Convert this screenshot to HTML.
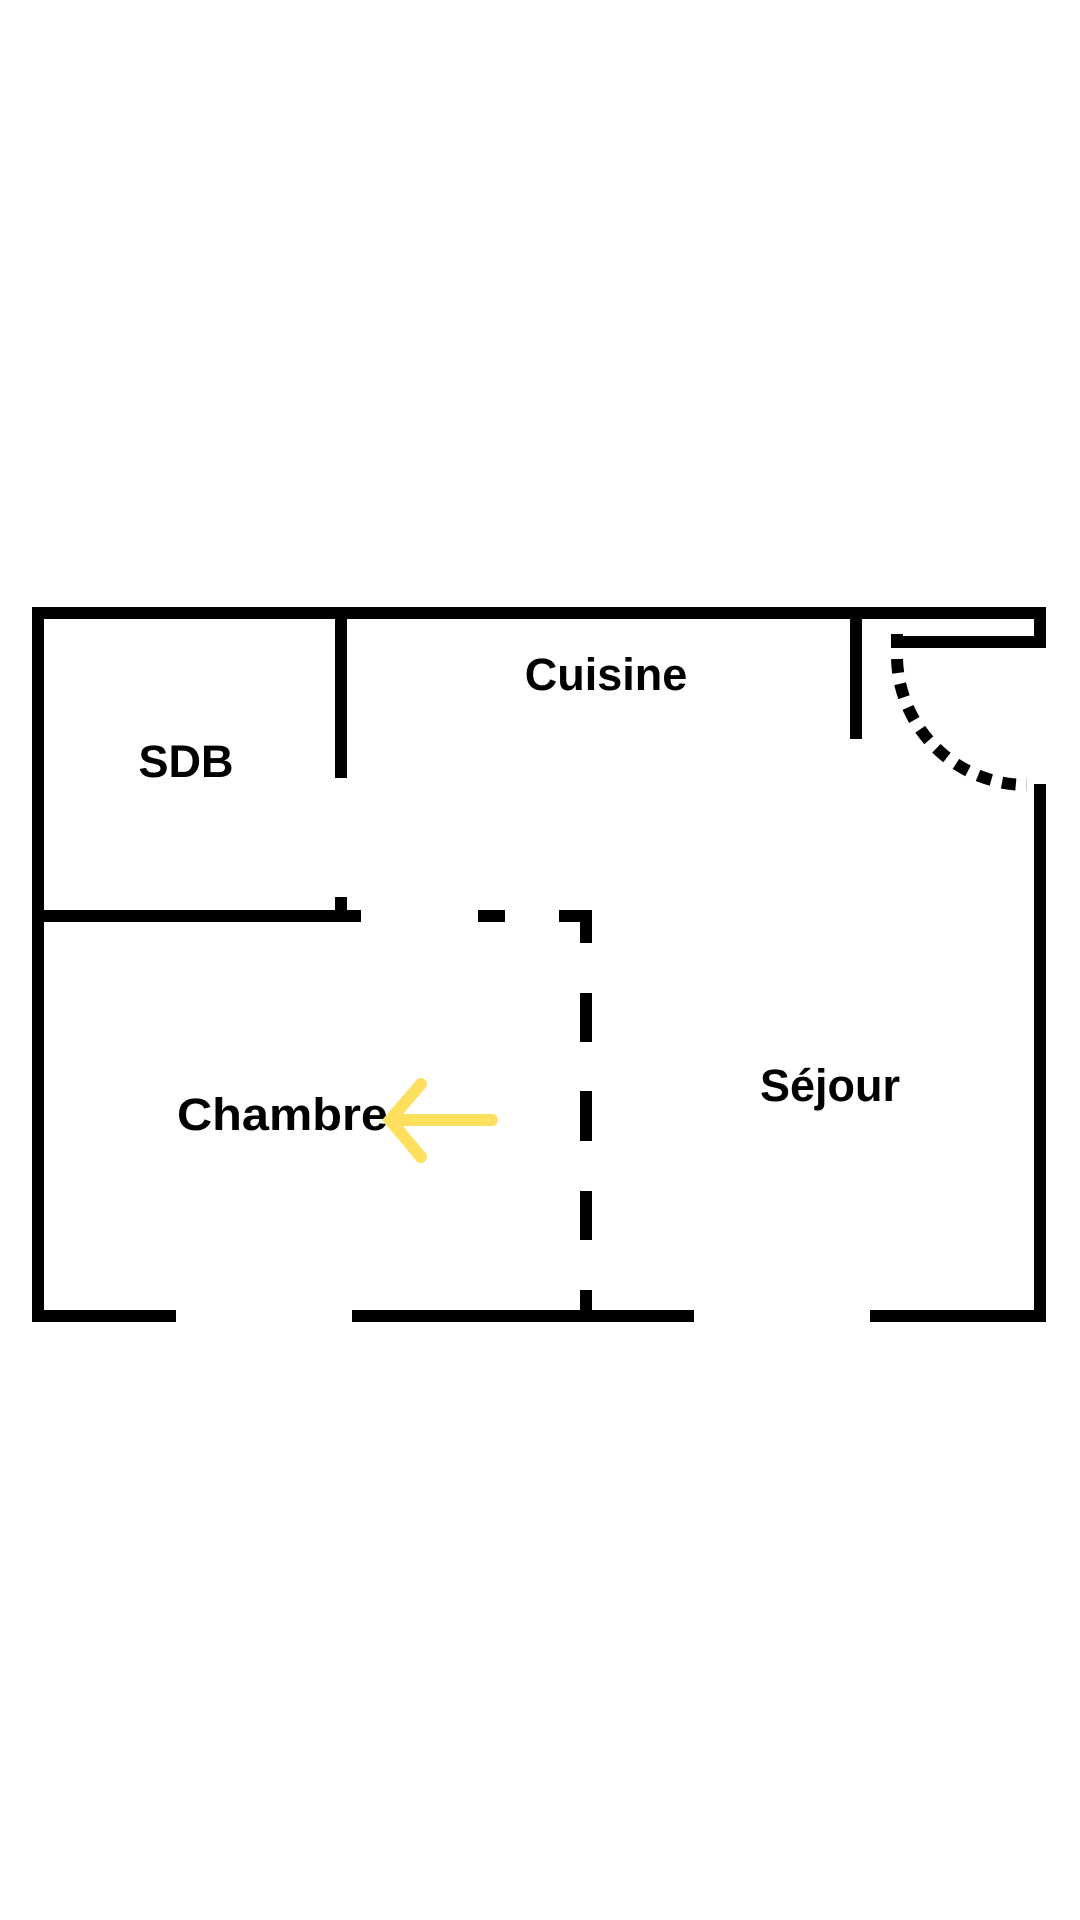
<!DOCTYPE html>
<html><head><meta charset="utf-8"><style>
html,body{margin:0;padding:0;background:#fff;width:1080px;height:1920px;overflow:hidden}
svg{display:block}
text{font-family:"Liberation Sans",sans-serif;font-weight:bold;fill:#000}
</style></head><body>
<svg width="1080" height="1920" viewBox="0 0 1080 1920">
<g transform="translate(0,-3)">
<g stroke="#000" stroke-width="12" fill="none" stroke-linecap="butt">
<path d="M38 1319 L38 616 L1040 616 L1040 645 L893 645"/>
<line x1="897" y1="637" x2="897" y2="651"/>
<line x1="1040" y1="787" x2="1040" y2="1325"/>
<line x1="32" y1="1319" x2="176" y2="1319"/>
<line x1="352" y1="1319" x2="694" y2="1319"/>
<line x1="870" y1="1319" x2="1046" y2="1319"/>
<line x1="856" y1="616" x2="856" y2="742"/>
<line x1="341" y1="616" x2="341" y2="781"/>
<line x1="38" y1="919" x2="361" y2="919"/>
<line x1="341" y1="900" x2="341" y2="919"/>
<line x1="478" y1="919" x2="505" y2="919"/>
<path d="M559 919 L586 919 L586 946"/>
<line x1="586" y1="996" x2="586" y2="1045"/>
<line x1="586" y1="1094" x2="586" y2="1144"/>
<line x1="586" y1="1194" x2="586" y2="1243"/>
<line x1="586" y1="1293" x2="586" y2="1319"/>
<path d="M897 662 A130 130 0 0 0 1027 788" stroke-dasharray="14 11"/>
</g>
<text x="606" y="693" font-size="45" text-anchor="middle">Cuisine</text>
<text x="186" y="780" font-size="45" text-anchor="middle">SDB</text>
<text x="177" y="1133" font-size="45" textLength="211" lengthAdjust="spacingAndGlyphs">Chambre</text>
<text x="760" y="1104" font-size="45" textLength="140" lengthAdjust="spacingAndGlyphs">Séjour</text>
<g stroke="#FFDF5E" stroke-width="12" stroke-linecap="round" fill="none">
<line x1="492" y1="1123" x2="390" y2="1123"/>
<path d="M421 1087 L390 1123 L421 1160"/>
</g>
</g>
</svg>
</body></html>
